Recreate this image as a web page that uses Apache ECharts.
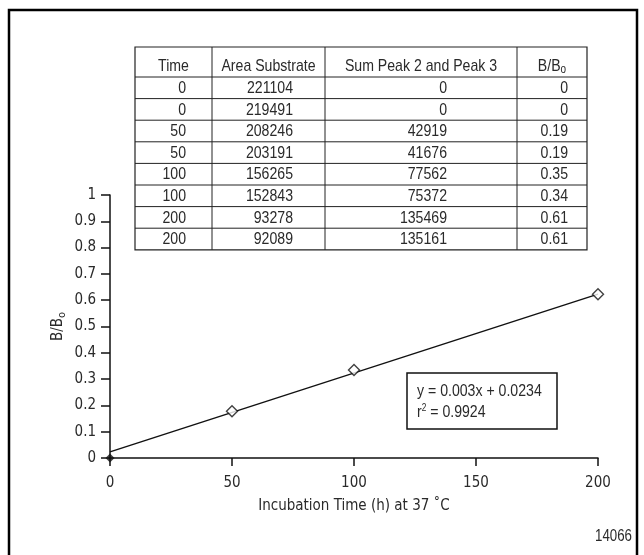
<!DOCTYPE html>
<html>
<head>
<meta charset="utf-8">
<script src="https://cdn.jsdelivr.net/npm/echarts@6/dist/echarts.min.js"></script>
<style>
  html, body { margin: 0; padding: 0; background: #fff; }
  #chart { width: 644px; height: 555px; }
</style>
</head>
<body>
<div id="chart"></div>
<script>
// table data
const tableHeaders = ["Time", "Area Substrate", "Sum Peak 2 and Peak 3", "B/B{sub|o}"];
const timeCol = [0, 0, 50, 50, 100, 100, 200, 200];
const areaCol = [221104, 219491, 208246, 203191, 156265, 152843, 93278, 92089];
const sumCol = [0, 0, 42919, 41676, 77562, 75372, 135469, 135161];
const ratioCol = ["0", "0", "0.19", "0.19", "0.35", "0.34", "0.61", "0.61"];

// plotted points and the fit line ends
const pointX = [50, 100, 200];
const pointY = [0.178, 0.335, 0.623];
const originPoint = [0, 0];
const fitX = [0, 200];
const fitY = [0.0234, 0.6234];

const xTicks = [0, 50, 100, 150, 200];
const fitText = ["y = 0.003x + 0.0234", "r{sup|2} = 0.9924"];
const figureId = "14066";

const FONT = "'Liberation Sans', Arial, sans-serif";
const AXFONT = "'DejaVu Sans Condensed', 'Liberation Sans', sans-serif";
const TXT = "#2a2a2a";
const SQUEEZE = 0.83; // narrow the text like the condensed face of the original

const chart = echarts.init(document.getElementById("chart"));

// ---- table as graphic elements ----
const colEdges = [135, 212, 325, 517, 587];
const colRight = [186, 293, 447, 568];
const tableTop = 47;
const headBottom = 77;
const rowH = 21.6;
const nRows = timeCol.length;
const tableBottom = headBottom + rowH * nRows;

const graphics = [];
// outer frame
graphics.push({
  type: "rect",
  shape: { x: 9, y: 10, width: 628, height: 560 },
  style: { fill: "none", stroke: "#000", lineWidth: 2.5 },
  silent: true,
});
// table frame
graphics.push({
  type: "rect",
  shape: { x: colEdges[0], y: tableTop, width: colEdges[4] - colEdges[0], height: tableBottom - tableTop },
  style: { fill: "#fff", stroke: "#222", lineWidth: 1.2 },
  silent: true,
});
for (let i = 1; i < colEdges.length - 1; i++) {
  graphics.push({
    type: "line",
    shape: { x1: colEdges[i], y1: tableTop, x2: colEdges[i], y2: tableBottom },
    style: { stroke: "#222", lineWidth: 1 },
    silent: true,
  });
}
for (let r = 0; r < nRows; r++) {
  const y = headBottom + rowH * r;
  graphics.push({
    type: "line",
    shape: { x1: colEdges[0], y1: y, x2: colEdges[4], y2: y },
    style: { stroke: "#222", lineWidth: 1 },
    silent: true,
  });
}
const richSub = {
  sub: { fontSize: 12, fontFamily: FONT, fill: TXT, verticalAlign: "bottom", lineHeight: 10 },
};
tableHeaders.forEach((h, i) => {
  graphics.push({
    type: "text",
    x: (colEdges[i] + colEdges[i + 1]) / 2,
    y: 66,
    scaleX: SQUEEZE,
    style: {
      text: h, fontSize: 17, fontFamily: FONT, fill: TXT,
      align: "center", verticalAlign: "middle", lineHeight: 20, rich: richSub,
    },
    silent: true,
  });
});
const cols = [timeCol, areaCol, sumCol, ratioCol];
cols.forEach((col, c) => {
  col.forEach((v, r) => {
    graphics.push({
      type: "text",
      x: colRight[c],
      y: headBottom + rowH * r + rowH / 2 + 0.5,
      scaleX: SQUEEZE,
      style: {
        text: String(v), fontSize: 17, fontFamily: FONT, fill: TXT,
        align: "right", verticalAlign: "middle",
      },
      silent: true,
    });
  });
});

// fit equation box
graphics.push({
  type: "rect",
  shape: { x: 407, y: 373, width: 150, height: 56 },
  style: { fill: "#fff", stroke: "#111", lineWidth: 1.5 },
  silent: true,
});
fitText.forEach((t, i) => {
  graphics.push({
    type: "text",
    x: 417,
    y: 391 + i * 21,
    scaleX: SQUEEZE,
    style: {
      text: t, fontSize: 17, fontFamily: FONT, fill: TXT,
      align: "left", verticalAlign: "middle",
      rich: { sup: { fontSize: 10, fontFamily: FONT, fill: TXT, verticalAlign: "top", lineHeight: 16 } },
    },
    silent: true,
  });
});
// figure number
graphics.push({
  type: "text",
  x: 632,
  y: 537,
  scaleX: SQUEEZE,
  style: { text: figureId, fontSize: 16, fontFamily: FONT, fill: TXT, align: "right", verticalAlign: "middle" },
  silent: true,
});

chart.setOption({
  animation: false,
  backgroundColor: "#fff",
  grid: { left: 110, right: 46, top: 195, bottom: 97 },
  xAxis: {
    type: "value",
    min: xTicks[0],
    max: xTicks[xTicks.length - 1],
    interval: 50,
    name: "Incubation Time (h) at 37 ˚C",
    nameLocation: "middle",
    nameGap: 41,
    nameTextStyle: { fontSize: 15, fontFamily: AXFONT, color: TXT },
    axisLine: { lineStyle: { color: "#111", width: 1.5 } },
    axisTick: { length: 8, lineStyle: { color: "#111", width: 1.5 } },
    axisLabel: { fontSize: 15, fontFamily: AXFONT, color: TXT, margin: 18 },
    splitLine: { show: false },
  },
  yAxis: {
    type: "value",
    min: 0,
    max: 1,
    interval: 0.1,
    name: "B/B{sub|o}",
    nameLocation: "middle",
    nameGap: 42,
    nameMoveOverlap: false,
    nameRotate: 90,
    nameTextStyle: {
      fontSize: 15, fontFamily: AXFONT, color: TXT, lineHeight: 20,
      rich: { sub: { fontSize: 11, fontFamily: AXFONT, color: TXT, verticalAlign: "bottom", lineHeight: 10 } },
    },
    axisLine: { show: true, lineStyle: { color: "#111", width: 1.5 } },
    axisTick: { show: true, length: 9, lineStyle: { color: "#111", width: 1.5 } },
    axisLabel: { fontSize: 15, fontFamily: AXFONT, color: TXT, margin: 14 },
    splitLine: { show: false },
  },
  series: [
    {
      type: "line",
      data: fitX.map((x, i) => [x, fitY[i]]),
      showSymbol: false,
      lineStyle: { color: "#111", width: 1.4 },
      z: 2,
    },
    {
      type: "scatter",
      data: pointX.map((x, i) => [x, pointY[i]]),
      symbol: "diamond",
      symbolSize: [11, 11],
      itemStyle: { color: "#fff", borderColor: "#111", borderWidth: 1.4 },
      z: 3,
    },
    {
      type: "scatter",
      data: [originPoint],
      symbol: "diamond",
      symbolSize: [9, 9],
      itemStyle: { color: "#111" },
      z: 4,
    },
  ],
  graphic: graphics,
});
</script>
</body>
</html>
